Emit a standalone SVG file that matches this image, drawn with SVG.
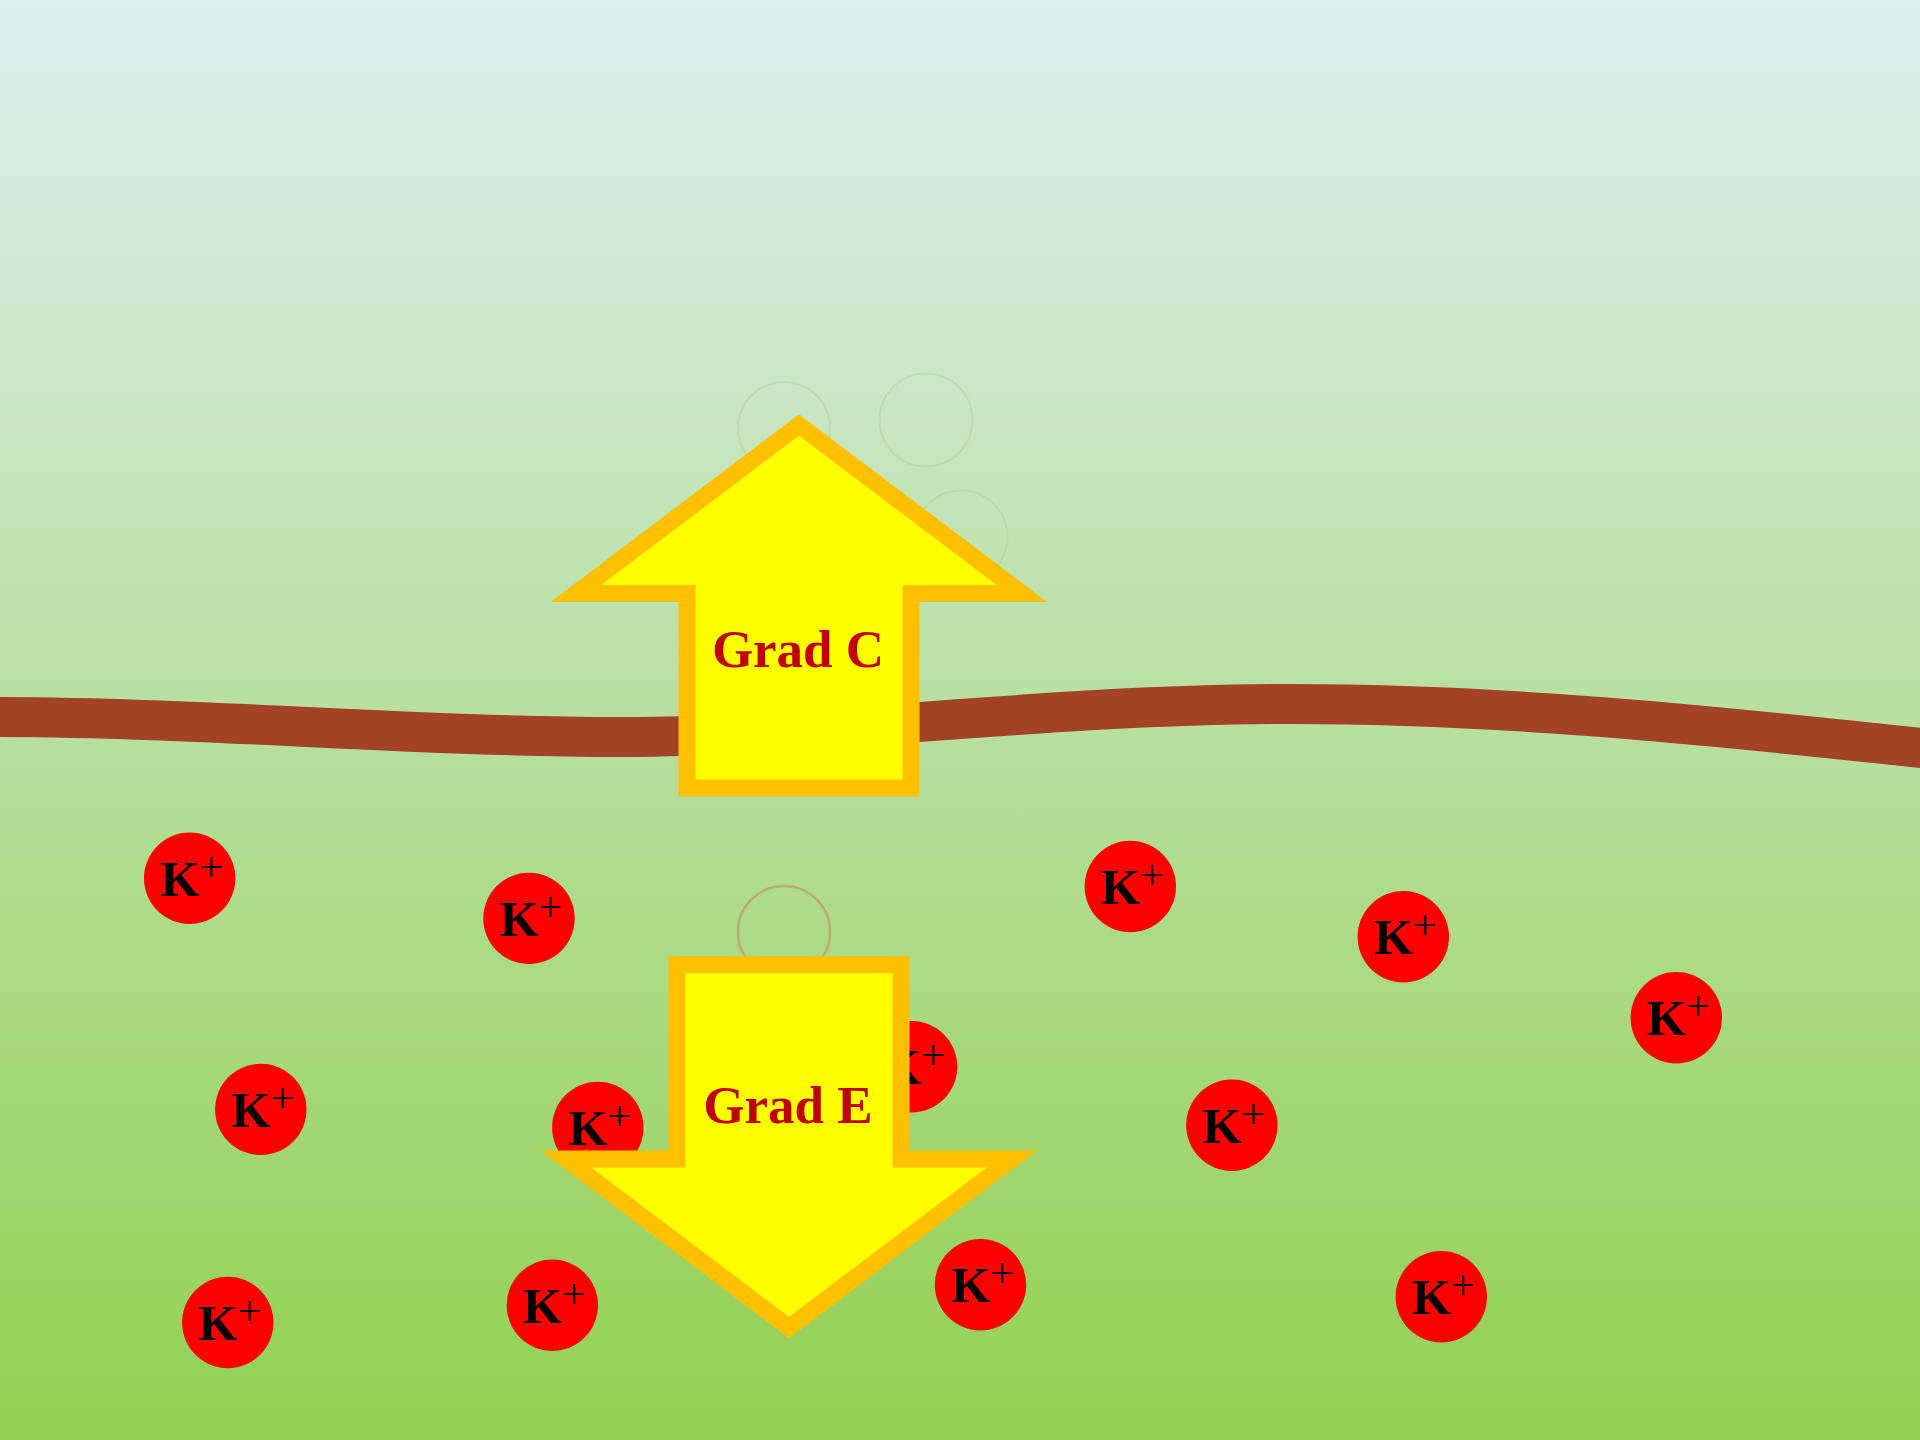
<svg xmlns="http://www.w3.org/2000/svg" width="1920" height="1440" viewBox="0 0 1920 1440">
  <defs>
    <linearGradient id="bg" x1="0" y1="0" x2="0" y2="1">
      <stop offset="0" stop-color="#DDEFF0"/>
      <stop offset="1" stop-color="#92D050"/>
    </linearGradient>
    <style>
      .ion circle { fill: #FF0000; }
      .ion text { font-family: "Liberation Serif", "Times New Roman", serif; font-size: 50px; font-weight: bold; fill: #000000; text-anchor: middle; }
      .ion .sup { font-size: 42px; font-weight: normal; }
      .arrow polygon { fill: #FFFF00; stroke: #FFC000; stroke-width: 17; stroke-linejoin: miter; stroke-miterlimit: 4; }
      .arrow text { font-family: "Liberation Serif", "Times New Roman", serif; font-size: 53px; font-weight: bold; fill: #C00000; text-anchor: middle; }
      .ghost { fill: none; stroke: #C4BD97; stroke-width: 2; stroke-opacity: 0.35; }
      .ring { fill: none; stroke: #BFA272; stroke-width: 2.5; stroke-opacity: 0.85; }
    </style>
  </defs>

  <!-- background -->
  <rect x="0" y="0" width="1920" height="1440" fill="url(#bg)"/>

  <!-- faint outlines above the membrane -->
  <g id="outlines">
    <circle class="ghost" cx="784" cy="428" r="46"/>
    <circle class="ghost" cx="926" cy="420" r="46.5"/>
    <circle class="ghost" cx="961" cy="537" r="46.5"/>
    <circle class="ring" cx="784" cy="932" r="46"/>
  </g>

  <!-- cell membrane -->
  <g id="membrane">
    <path d="M-10,717 C200,717 420,737 620,737 C820,737 1050,704 1290,704 C1500,704 1700,724 1930,749" fill="none" stroke="#A34224" stroke-width="40"/>
  </g>

  <!-- potassium ions -->
  <g id="ion-1" class="ion"><circle cx="189.7" cy="878.3" r="45.7"/><text x="191.7" y="895.7">K<tspan class="sup" dy="-15">+</tspan></text></g>
  <g id="ion-2" class="ion"><circle cx="529" cy="918.4" r="45.7"/><text x="531" y="935.8">K<tspan class="sup" dy="-15">+</tspan></text></g>
  <g id="ion-3" class="ion"><circle cx="1130.3" cy="886.5" r="45.7"/><text x="1132.3" y="903.9">K<tspan class="sup" dy="-15">+</tspan></text></g>
  <g id="ion-4" class="ion"><circle cx="1403.3" cy="936.7" r="45.7"/><text x="1405.3" y="954.1">K<tspan class="sup" dy="-15">+</tspan></text></g>
  <g id="ion-5" class="ion"><circle cx="1676.3" cy="1017.8" r="45.7"/><text x="1678.3" y="1035.2">K<tspan class="sup" dy="-15">+</tspan></text></g>
  <g id="ion-6" class="ion"><circle cx="260.8" cy="1109.4" r="45.7"/><text x="262.8" y="1126.8">K<tspan class="sup" dy="-15">+</tspan></text></g>
  <g id="ion-7" class="ion"><circle cx="597.8" cy="1127.4" r="45.7"/><text x="599.8" y="1144.8">K<tspan class="sup" dy="-15">+</tspan></text></g>
  <g id="ion-8" class="ion"><circle cx="911.6" cy="1066.7" r="45.7"/><text x="913.6" y="1084.1">K<tspan class="sup" dy="-15">+</tspan></text></g>
  <g id="ion-9" class="ion"><circle cx="1231.9" cy="1125.3" r="45.7"/><text x="1233.9" y="1142.7">K<tspan class="sup" dy="-15">+</tspan></text></g>
  <g id="ion-10" class="ion"><circle cx="227.8" cy="1322.5" r="45.7"/><text x="229.8" y="1339.9">K<tspan class="sup" dy="-15">+</tspan></text></g>
  <g id="ion-11" class="ion"><circle cx="552.3" cy="1305.3" r="45.7"/><text x="554.3" y="1322.7">K<tspan class="sup" dy="-15">+</tspan></text></g>
  <g id="ion-12" class="ion"><circle cx="980.5" cy="1284.7" r="45.7"/><text x="982.5" y="1302.1">K<tspan class="sup" dy="-15">+</tspan></text></g>
  <g id="ion-13" class="ion"><circle cx="1441.3" cy="1296.8" r="45.7"/><text x="1443.3" y="1314.2">K<tspan class="sup" dy="-15">+</tspan></text></g>

  <!-- concentration gradient arrow (upward) -->
  <g id="grad-c" class="arrow">
    <polygon points="799,425 1022,593.5 911,593.5 911,788 687,788 687,593.5 576,593.5"/>
    <text x="798" y="667">Grad C</text>
  </g>

  <!-- electrical gradient arrow (downward) -->
  <g id="grad-e" class="arrow">
    <polygon points="677,964.7 901,964.7 901,1159 1012,1159 789,1327.5 566,1159 677,1159"/>
    <text x="788" y="1123">Grad E</text>
  </g>
</svg>
